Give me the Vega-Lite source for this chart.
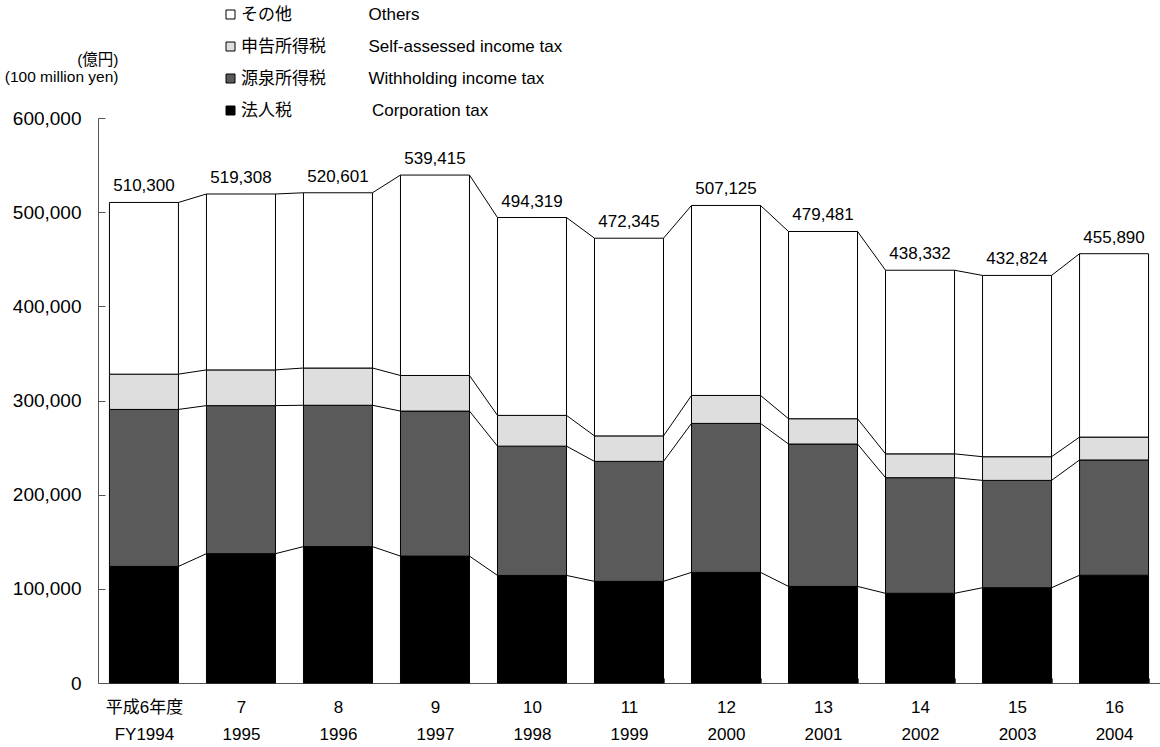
{
  "$schema": "https://vega.github.io/schema/vega-lite/v6.json",
  "autosize": "none",
  "width": 1062,
  "height": 565,
  "padding": {"left": 98, "top": 118, "right": 0, "bottom": 64},
  "background": "white",
  "config": {"view": {"stroke": null}, "font": "Liberation Sans, Noto Sans CJK JP"},
  "data": {"values": [
    {"yr":"1994","series":"法人税","k":1,"v":123815},{"yr":"1994","series":"源泉所得税","k":2,"v":166700},{"yr":"1994","series":"申告所得税","k":3,"v":37475},{"yr":"1994","series":"その他","k":4,"v":182310},
    {"yr":"1995","series":"法人税","k":1,"v":137354},{"yr":"1995","series":"源泉所得税","k":2,"v":157200},{"yr":"1995","series":"申告所得税","k":3,"v":37951},{"yr":"1995","series":"その他","k":4,"v":186803},
    {"yr":"1996","series":"法人税","k":1,"v":144838},{"yr":"1996","series":"源泉所得税","k":2,"v":150100},{"yr":"1996","series":"申告所得税","k":3,"v":39549},{"yr":"1996","series":"その他","k":4,"v":186114},
    {"yr":"1997","series":"法人税","k":1,"v":134754},{"yr":"1997","series":"源泉所得税","k":2,"v":154000},{"yr":"1997","series":"申告所得税","k":3,"v":37827},{"yr":"1997","series":"その他","k":4,"v":212834},
    {"yr":"1998","series":"法人税","k":1,"v":114232},{"yr":"1998","series":"源泉所得税","k":2,"v":137300},{"yr":"1998","series":"申告所得税","k":3,"v":32661},{"yr":"1998","series":"その他","k":4,"v":210126},
    {"yr":"1999","series":"法人税","k":1,"v":107951},{"yr":"1999","series":"源泉所得税","k":2,"v":127400},{"yr":"1999","series":"申告所得税","k":3,"v":27068},{"yr":"1999","series":"その他","k":4,"v":209926},
    {"yr":"2000","series":"法人税","k":1,"v":117472},{"yr":"2000","series":"源泉所得税","k":2,"v":158200},{"yr":"2000","series":"申告所得税","k":3,"v":29689},{"yr":"2000","series":"その他","k":4,"v":201764},
    {"yr":"2001","series":"法人税","k":1,"v":102578},{"yr":"2001","series":"源泉所得税","k":2,"v":151200},{"yr":"2001","series":"申告所得税","k":3,"v":26865},{"yr":"2001","series":"その他","k":4,"v":198838},
    {"yr":"2002","series":"法人税","k":1,"v":95228},{"yr":"2002","series":"源泉所得税","k":2,"v":122800},{"yr":"2002","series":"申告所得税","k":3,"v":25322},{"yr":"2002","series":"その他","k":4,"v":194982},
    {"yr":"2003","series":"法人税","k":1,"v":101152},{"yr":"2003","series":"源泉所得税","k":2,"v":114000},{"yr":"2003","series":"申告所得税","k":3,"v":25146},{"yr":"2003","series":"その他","k":4,"v":192526},
    {"yr":"2004","series":"法人税","k":1,"v":114437},{"yr":"2004","series":"源泉所得税","k":2,"v":122400},{"yr":"2004","series":"申告所得税","k":3,"v":24305},{"yr":"2004","series":"その他","k":4,"v":194748}
  ]},
  "transform": [
    {"stack": "v", "groupby": ["yr"], "sort": [{"field": "k", "order": "ascending"}], "as": ["lo", "hi"]}
  ],
  "layer": [
    {
      "mark": {"type": "bar", "stroke": "black", "strokeWidth": 1},
      "encoding": {
        "x": {
          "field": "yr", "type": "ordinal",
          "scale": {"paddingInner": 0.2887, "paddingOuter": 0.118},
          "axis": {
            "title": null,
            "labelExpr": "!isValid(datum.value) || datum.label == '' ? '' : datum.value == '1994' ? ['平成6年度', 'FY1994'] : [toString(toNumber(datum.value) - 1988), datum.value]",
            "labelAngle": 0,
            "labelFontSize": 17,
            "labelColor": "black",
            "labelLineHeight": 27,
            "labelPadding": 21,
            "tickBand": "extent",
            "tickSize": -5,
            "tickColor": "#555",
            "domainColor": "#555"
          }
        },
        "y": {
          "field": "lo", "type": "quantitative",
          "scale": {"domain": [0, 600000], "nice": false},
          "axis": {
            "title": ["(億円)", "(100 million yen)"],
            "titleAngle": 0,
            "titleAlign": "right",
            "titleBaseline": "alphabetic",
            "titleX": 20,
            "titleY": -54,
            "titleFontSize": 15.5,
            "titleFontWeight": "normal",
            "titleLineHeight": 17,
            "titleColor": "black",
            "values": [0, 100000, 200000, 300000, 400000, 500000, 600000],
            "format": ",d",
            "labelFontSize": 19,
            "labelColor": "black",
            "labelPadding": 24,
            "tickSize": -7,
            "tickColor": "#555",
            "domainColor": "#555",
            "grid": false
          }
        },
        "y2": {"field": "hi"},
        "color": {
          "field": "series", "type": "nominal",
          "scale": {"domain": ["その他", "申告所得税", "源泉所得税", "法人税"], "range": ["#ffffff", "#dedede", "#5a5a5a", "#000000"]},
          "legend": {
            "orient": "none",
            "legendX": 124,
            "legendY": -112,
            "direction": "vertical",
            "title": null,
            "symbolType": "square",
            "symbolSize": 81,
            "symbolStrokeColor": "black",
            "symbolStrokeWidth": 1,
            "labelFont": "Liberation Sans, Noto Sans CJK JP",
            "labelFontSize": 17,
            "labelColor": "black",
            "labelLimit": 0,
            "labelOffset": 2,
            "rowPadding": 14,
            "labelExpr": "datum.label == 'その他' ? 'その他　　　　\u2002Others' : datum.label == '申告所得税' ? '申告所得税　　\u2002Self-assessed income tax' : datum.label == '源泉所得税' ? '源泉所得税　　\u2002Withholding income tax' : '法人税　　　　\u2002\u2009Corporation tax'"
          }
        }
      }
    },
    {
      "transform": [
        {"window": [{"op": "lead", "field": "hi", "as": "nhi"}, {"op": "lead", "field": "yr", "as": "nyr"}], "groupby": ["k"], "sort": [{"field": "yr", "order": "ascending"}]},
        {"filter": "datum.nyr != null"}
      ],
      "mark": {"type": "rule", "color": "black", "strokeWidth": 1},
      "encoding": {
        "x": {"field": "yr", "type": "ordinal", "bandPosition": 1},
        "x2": {"field": "nyr", "bandPosition": 0},
        "y": {"field": "hi", "type": "quantitative"},
        "y2": {"field": "nhi"}
      }
    },
    {
      "transform": [{"filter": "datum.k == 4"}],
      "mark": {"type": "text", "fontSize": 17, "dy": -11, "baseline": "alphabetic", "color": "black"},
      "encoding": {
        "x": {"field": "yr", "type": "ordinal"},
        "y": {"field": "hi", "type": "quantitative"},
        "text": {"field": "hi", "type": "quantitative", "format": ","}
      }
    }
  ]
}
